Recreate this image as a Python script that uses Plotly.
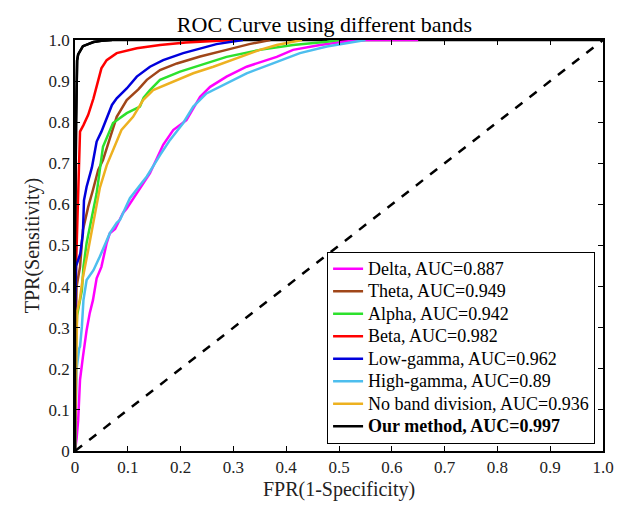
import plotly.graph_objects as go

# ---- data ----
delta_fpr = [0, 0.003, 0.006, 0.0095, 0.015, 0.022, 0.028, 0.034, 0.041, 0.05, 0.06, 0.066, 0.076, 0.091, 0.098, 0.117, 0.142, 0.167, 0.186, 0.211, 0.237, 0.256, 0.287, 0.325, 0.382, 0.413, 0.464, 0.508, 0.55, 0.65]
delta_tpr = [0, 0.03, 0.075, 0.173, 0.229, 0.294, 0.336, 0.367, 0.42, 0.448, 0.506, 0.53, 0.54, 0.579, 0.59, 0.627, 0.676, 0.745, 0.781, 0.805, 0.862, 0.886, 0.911, 0.935, 0.959, 0.976, 0.988, 0.996, 1.0, 1.0]

theta_fpr = [0, 0.0, 0.003, 0.0095, 0.015, 0.025, 0.034, 0.044, 0.053, 0.066, 0.079, 0.098, 0.12, 0.136, 0.161, 0.193, 0.237, 0.287, 0.33, 0.37]
theta_tpr = [0, 0.2, 0.4, 0.448, 0.538, 0.594, 0.635, 0.684, 0.708, 0.76, 0.813, 0.854, 0.88, 0.903, 0.927, 0.943, 0.96, 0.976, 0.99, 1.0]

alpha_fpr = [0, 0.002, 0.004, 0.013, 0.016, 0.022, 0.032, 0.041, 0.047, 0.053, 0.072, 0.098, 0.123, 0.13, 0.142, 0.161, 0.199, 0.237, 0.287, 0.35, 0.413, 0.477, 0.5]
alpha_tpr = [0, 0.27, 0.33, 0.39, 0.448, 0.506, 0.57, 0.627, 0.684, 0.74, 0.798, 0.822, 0.838, 0.86, 0.878, 0.903, 0.923, 0.939, 0.959, 0.976, 0.988, 0.996, 1.0]

beta_fpr = [0, 0.0, 0.002, 0.004, 0.006, 0.009, 0.0095, 0.016, 0.025, 0.035, 0.041, 0.05, 0.06, 0.079, 0.117, 0.161, 0.21, 0.3]
beta_tpr = [0, 0.3, 0.45, 0.55, 0.62, 0.73, 0.777, 0.793, 0.818, 0.858, 0.89, 0.931, 0.951, 0.968, 0.98, 0.988, 0.994, 1.0]

lowg_fpr = [0, 0.0, 0.002, 0.006, 0.01, 0.015, 0.017, 0.022, 0.032, 0.038, 0.041, 0.05, 0.06, 0.07, 0.079, 0.098, 0.117, 0.142, 0.167, 0.205, 0.268, 0.318]
lowg_tpr = [0, 0.3, 0.45, 0.465, 0.48, 0.53, 0.61, 0.643, 0.69, 0.732, 0.753, 0.777, 0.81, 0.842, 0.858, 0.882, 0.911, 0.935, 0.951, 0.968, 0.99, 1.0]

highg_fpr = [0, 0.003, 0.008, 0.0095, 0.013, 0.016, 0.022, 0.035, 0.047, 0.066, 0.079, 0.085, 0.104, 0.136, 0.161, 0.18, 0.205, 0.224, 0.249, 0.287, 0.325, 0.375, 0.426, 0.477, 0.527, 0.55]
highg_tpr = [0, 0.2, 0.25, 0.254, 0.302, 0.367, 0.416, 0.44, 0.473, 0.53, 0.555, 0.562, 0.615, 0.668, 0.72, 0.757, 0.798, 0.838, 0.87, 0.894, 0.919, 0.943, 0.968, 0.984, 0.994, 1.0]

noband_fpr = [0, 0.002, 0.004, 0.009, 0.015, 0.025, 0.034, 0.047, 0.06, 0.072, 0.079, 0.088, 0.11, 0.129, 0.148, 0.186, 0.224, 0.262, 0.306, 0.35, 0.382, 0.43]
noband_tpr = [0, 0.2, 0.34, 0.367, 0.423, 0.489, 0.555, 0.64, 0.695, 0.732, 0.749, 0.781, 0.813, 0.854, 0.878, 0.898, 0.919, 0.935, 0.955, 0.976, 0.988, 1.0]

ours_fpr = [0, 0.0, 0.002, 0.003, 0.004, 0.006, 0.01, 0.015, 0.025, 0.035, 0.05, 0.07, 1.0]
ours_tpr = [0, 0.5, 0.8, 0.93, 0.95, 0.965, 0.975, 0.985, 0.99, 0.995, 0.998, 1.0, 1.0]

chance = [0, 1]

series = [
    ("Delta, AUC=0.887", delta_fpr, delta_tpr, "rgb(255,0,255)"),
    ("Theta, AUC=0.949", theta_fpr, theta_tpr, "rgb(160,70,25)"),
    ("Alpha, AUC=0.942", alpha_fpr, alpha_tpr, "rgb(45,225,45)"),
    ("Beta, AUC=0.982", beta_fpr, beta_tpr, "rgb(255,0,0)"),
    ("Low-gamma, AUC=0.962", lowg_fpr, lowg_tpr, "rgb(0,0,220)"),
    ("High-gamma, AUC=0.89", highg_fpr, highg_tpr, "rgb(77,190,238)"),
    ("No band division, AUC=0.936", noband_fpr, noband_tpr, "rgb(237,177,32)"),
]

tick_vals = [0, 0.1, 0.2, 0.3, 0.4, 0.5, 0.6, 0.7, 0.8, 0.9, 1.0]
tick_text = ["0", "0.1", "0.2", "0.3", "0.4", "0.5", "0.6", "0.7", "0.8", "0.9", "1.0"]

FONT = "Liberation Serif, Times New Roman, serif"


def leg(label):
    return '<span style="font-size:18px">' + label + '</span>'


fig = go.Figure()

fig.add_trace(go.Scatter(x=ours_fpr, y=ours_tpr, mode="lines",
                         name=leg("<b>Our method, AUC=0.997</b>"),
                         line=dict(color="black", width=2.5), legendrank=1008))
for i, (name, xs, ys, col) in enumerate(series):
    fig.add_trace(go.Scatter(x=xs, y=ys, mode="lines", name=leg(name),
                             line=dict(color=col, width=2.5), legendrank=1000 + i))
fig.add_trace(go.Scatter(x=ours_fpr[:-1], y=ours_tpr[:-1], mode="lines",
                         showlegend=False, hoverinfo="skip",
                         line=dict(color="black", width=2.5)))
fig.add_trace(go.Scatter(x=chance, y=chance, mode="lines", showlegend=False,
                         line=dict(color="black", width=2.5, dash="dash")))

axis_common = dict(range=[0, 1], tickvals=tick_vals, ticktext=tick_text,
                   ticks="inside", ticklen=5, tickcolor="black",
                   showline=True, linecolor="black", linewidth=1.5, mirror="ticks",
                   showgrid=False, zeroline=False,
                   tickfont=dict(family=FONT, size=17, color="#222"))

fig.update_layout(
    width=633, height=511,
    margin=dict(l=67, r=38, t=32, b=68),
    paper_bgcolor="white", plot_bgcolor="white",
    title=dict(text="ROC Curve using different bands", x=0.5, xanchor="center",
               y=0.969, yanchor="middle",
               font=dict(family=FONT, size=22, color="black")),
    xaxis=dict(title=dict(text="FPR(1-Specificity)", standoff=6,
                          font=dict(family=FONT, size=20, color="#222")), **axis_common),
    yaxis=dict(title=dict(text="TPR(Sensitivity)", standoff=4,
                          font=dict(family=FONT, size=20, color="#222")), **axis_common),
    legend=dict(x=0.985, y=0.018, xanchor="right", yanchor="bottom",
                bgcolor="white", bordercolor="black", borderwidth=1,
                font=dict(family=FONT, size=15, color="black"),
                tracegroupgap=0, itemwidth=30),
    showlegend=True,
)

fig.write_html("out.html")
